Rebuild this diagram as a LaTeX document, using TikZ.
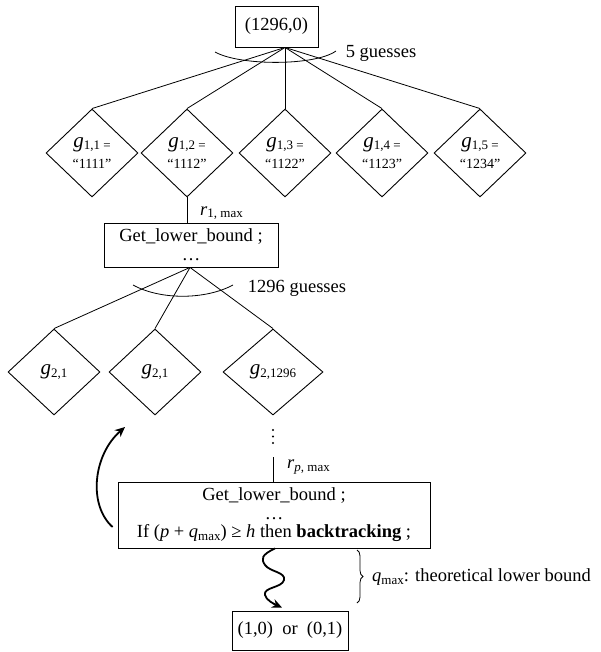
\documentclass[tikz,border=0pt]{standalone}
\usepackage{fontspec}
\setmainfont{Liberation Serif}
\usetikzlibrary{shapes.geometric,arrows.meta,decorations.pathreplacing}
\newcommand\bigtxt{\fontsize{18.5}{22}\selectfont}
\newcommand\smalltxt{\fontsize{13}{15}\selectfont}
\newcommand\quotetxt{\fontsize{14}{16}\selectfont}
\newcommand\lowsub[1]{\raisebox{-0.3ex}{\smalltxt #1}}
\newcommand\gsym{{\fontsize{21}{22}\selectfont\textit{g}}}

\begin{document}
\begin{tikzpicture}[x=1pt,y=-1pt,
  every node/.style={font=\bigtxt, inner sep=0pt},
  conn/.style={line width=0.8pt},
  box/.style={draw, line width=0.9pt, rectangle, align=center},
  guess/.style={draw, line width=0.9pt, diamond, minimum width=92pt, minimum height=88pt, align=center},
  guesstwo/.style={draw, line width=0.9pt, diamond, minimum width=92pt, minimum height=86pt, align=center},
  bold arrow/.style={line width=1.8pt, -{Stealth[length=10pt,width=9pt]}},
]
\useasboundingbox (0,0) rectangle (601,652);

% root of the search tree
\node[box, minimum width=83pt, minimum height=41pt] (root) at (276.5,26.5) {(1296,0)};
\coordinate (apex1) at ([xshift=8.5pt]root.south);

% first level of guesses
\node[guess] (g11) at (92,153)  {\gsym\lowsub{1,1 =}\\[-1pt]{\quotetxt “1111”}};
\node[guess] (g12) at (187,153) {\gsym\lowsub{1,2 =}\\[-1pt]{\quotetxt “1112”}};
\node[guess] (g13) at (285,153) {\gsym\lowsub{1,3 =}\\[-1pt]{\quotetxt “1122”}};
\node[guess] (g14) at (382,153) {\gsym\lowsub{1,4 =}\\[-1pt]{\quotetxt “1123”}};
\node[guess] (g15) at (480,153) {\gsym\lowsub{1,5 =}\\[-1pt]{\quotetxt “1234”}};
\foreach \i in {1,...,5} \draw[conn] (apex1) -- (g1\i.north);
\draw[conn] (215,52) .. controls (240,66) and (315,66) .. (336,51);
\node (five) at (381,53) {5 guesses};

% lower bound computation after the first guess
\node[box, minimum width=174pt, minimum height=44pt] (lb1) at (191,245)
  {Get\_lower\_bound ;\\[-3pt]\ldots};
\draw[conn] (g12.south) -- (g12.south |- lb1.north);
\node[anchor=west] (r1) at (200,213) {\textit{r}\lowsub{1, max}};
\coordinate (apex2) at ([xshift=-1pt]lb1.south);

% second level of guesses
\node[guesstwo] (g2a) at (54,372)  {\gsym\lowsub{2,1}};
\node[guesstwo] (g2b) at (155,372) {\gsym\lowsub{2,1}};
\node[guesstwo, minimum width=100pt] (g2c) at (273,372) {\gsym\lowsub{2,1296}};
\foreach \n in {g2a,g2b,g2c} \draw[conn] (apex2) -- (\n.north);
\draw[conn] (133,285) .. controls (160,300) and (205,300) .. (233,285);
\node (many) at (297,288) {1296 guesses};

% deeper levels, elided
\foreach \y in {430,436.5,443} \fill (273,\y) circle (1.1pt);
\coordinate (rptop) at (273,457);
\node[box, minimum width=312pt, minimum height=66pt] (lb2) at (274,515)
  {Get\_lower\_bound ;\\[-3pt]\ldots\\[-4pt]If (\textit{p} + \textit{q}\lowsub{max}) ≥ \textit{h} then \textbf{backtracking} ;};
\draw[conn] (rptop) -- (rptop |- lb2.north);
\node[anchor=west] (rp) at (287,467) {\textit{r}\lowsub{\textit{p}, max}};

% backtracking arrow
\coordinate (backtip) at (125,427);
\draw[bold arrow] ([shift={(-5pt,-12pt)}]lb2.west) .. controls (88,505) and (93,455) .. (backtip);

% final outcome
\node[box, minimum width=116pt, minimum height=39pt] (leaf) at (290,630.5) {(1,0)\ \ or\ \ (0,1)};
\draw[bold arrow] ([xshift=1pt]lb2.south) .. controls (261,555) and (261,559) .. (265,565)
  .. controls (270,572) and (286,572) .. (284,580)
  .. controls (282,588) and (263,587) .. (265,595)
  .. controls (266,600) and (274,604) .. ([xshift=-8pt,yshift=3pt]leaf.north);

% theoretical lower bound brace
\draw[conn, decorate, decoration={brace, amplitude=6pt}] (357,550) -- (357,603);
\node[anchor=west] (qlab) at (372,577) {\textit{q}\lowsub{max}: theoretical lower bound};
\end{tikzpicture}
\end{document}
